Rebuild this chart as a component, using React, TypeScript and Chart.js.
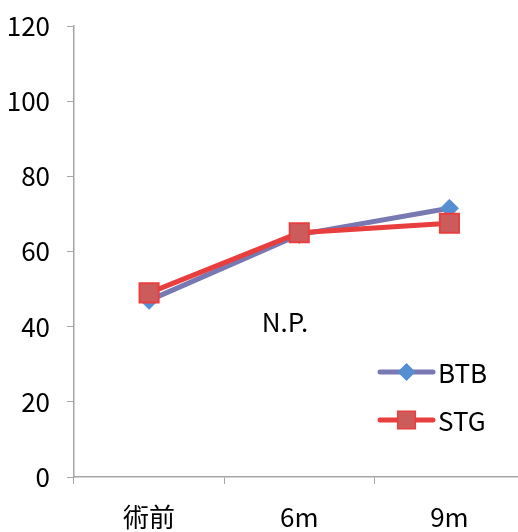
import React, { useEffect, useRef } from "react";
import { Chart, registerables } from "chart.js";

Chart.register(...registerables);

const categories = ["術前", "6m", "9m"];
const btbValues = [47, 64.5, 71.5];
const stgValues = [49, 65, 67.5];
const yMin = 0;
const yMax = 120;
const yStep = 20;
const seriesNames = ["BTB", "STG"];
const noteText = "N.P.";

const FONT = "'Noto Sans CJK JP', sans-serif";
const BTB_LINE = "rgb(120,120,178)";
const BTB_FILL = "rgb(86,142,210)";
const STG_LINE = "rgb(232,62,62)";
const STG_FILL = "rgb(204,92,92)";
const AXIS = "#a6a6a6";

const W = 540;
const H = 545;

const overlayPlugin = {
  id: "overlay",
  afterDraw(chart: any) {
    const { ctx, chartArea } = chart;
    const L = chartArea.left;
    const B = chartArea.bottom;
    ctx.save();
    ctx.font = `26px ${FONT}`;
    ctx.fillStyle = "#000";
    ctx.textBaseline = "middle";
    ctx.textAlign = "center";
    ctx.fillText(noteText, L + 211, B - 155);

    const items = [
      { name: seriesNames[0], line: BTB_LINE, fill: BTB_FILL, border: BTB_FILL, style: "rectRot", r: 8 },
      { name: seriesNames[1], line: STG_LINE, fill: STG_FILL, border: STG_LINE, style: "rect", r: 12.5 },
    ];
    items.forEach((it, i) => {
      const y = B - 105 + i * 48;
      const x0 = L + 306;
      const x1 = L + 359;
      ctx.strokeStyle = it.line;
      ctx.lineWidth = 5;
      ctx.lineCap = "round";
      ctx.beginPath();
      ctx.moveTo(x0, y);
      ctx.lineTo(x1, y);
      ctx.stroke();
      ctx.fillStyle = it.fill;
      ctx.strokeStyle = it.border;
      ctx.lineWidth = 1.5;
      const cx = (x0 + x1) / 2;
      ctx.beginPath();
      if (it.style === "rectRot") {
        ctx.moveTo(cx - it.r, y);
        ctx.lineTo(cx, y - it.r);
        ctx.lineTo(cx + it.r, y);
        ctx.lineTo(cx, y + it.r);
        ctx.closePath();
      } else {
        const s = it.r * Math.SQRT1_2;
        ctx.rect(cx - s, y - s, 2 * s, 2 * s);
      }
      ctx.fill();
      ctx.stroke();
      ctx.fillStyle = "#000";
      ctx.textAlign = "left";
      ctx.fillText(it.name, x1 + 5, y + 1);
    });
    ctx.restore();
  },
};

export default function App() {
  const ref = useRef<HTMLCanvasElement | null>(null);
  useEffect(() => {
    if (!ref.current) return;
    const chart = new Chart(ref.current, {
      type: "line",
      data: {
        labels: categories,
        datasets: [
          {
            label: seriesNames[0],
            data: btbValues,
            borderColor: BTB_LINE,
            backgroundColor: BTB_FILL,
            borderWidth: 5,
            pointStyle: "rectRot",
            pointRadius: 9,
            pointBackgroundColor: BTB_FILL,
            pointBorderColor: BTB_FILL,
            pointBorderWidth: 1,
            tension: 0,
            order: 1,
          },
          {
            label: seriesNames[1],
            data: stgValues,
            borderColor: STG_LINE,
            backgroundColor: STG_FILL,
            borderWidth: 5,
            pointStyle: "rect",
            pointRadius: 13.5,
            pointBackgroundColor: STG_FILL,
            pointBorderColor: STG_LINE,
            pointBorderWidth: 2,
            tension: 0,
            order: 0,
          },
        ],
      },
      options: {
        responsive: false,
        animation: false,
        layout: { padding: { left: 0, right: 13, top: 26, bottom: 0 } },
        plugins: { legend: { display: false }, tooltip: { enabled: false } },
        scales: {
          x: {
            type: "category",
            offset: true,
            grid: {
              offset: true,
              drawOnChartArea: false,
              drawTicks: true,
              tickLength: 7,
              color: AXIS,
            },
            border: { display: true, color: AXIS, width: 1.5 },
            ticks: {
              color: "#000",
              font: { family: FONT, size: 26 },
              padding: 18,
              maxRotation: 0,
            },
            afterFit(scale: any) {
              scale.height = H - 477;
              scale.paddingLeft = 0;
              scale.paddingRight = 0;
            },
          },
          y: {
            min: yMin,
            max: yMax,
            grid: {
              drawOnChartArea: false,
              drawTicks: true,
              tickLength: 7,
              color: AXIS,
            },
            border: { display: true, color: AXIS, width: 1.5 },
            ticks: {
              stepSize: yStep,
              color: "#000",
              font: { family: FONT, size: 26 },
              padding: 17,
            },
            afterFit(scale: any) {
              scale.width = 74;
              scale.paddingTop = 0;
              scale.paddingBottom = 0;
            },
          },
        },
      },
      plugins: [overlayPlugin],
    });
    return () => chart.destroy();
  }, []);
  return (
    <div
      style={{
        position: "absolute",
        left: 0,
        top: 0,
        width: 518,
        height: 532,
        overflow: "hidden",
        background: "#fff",
      }}
    >
      <canvas ref={ref} width={W} height={H} style={{ width: W, height: H, display: "block" }} />
    </div>
  );
}
